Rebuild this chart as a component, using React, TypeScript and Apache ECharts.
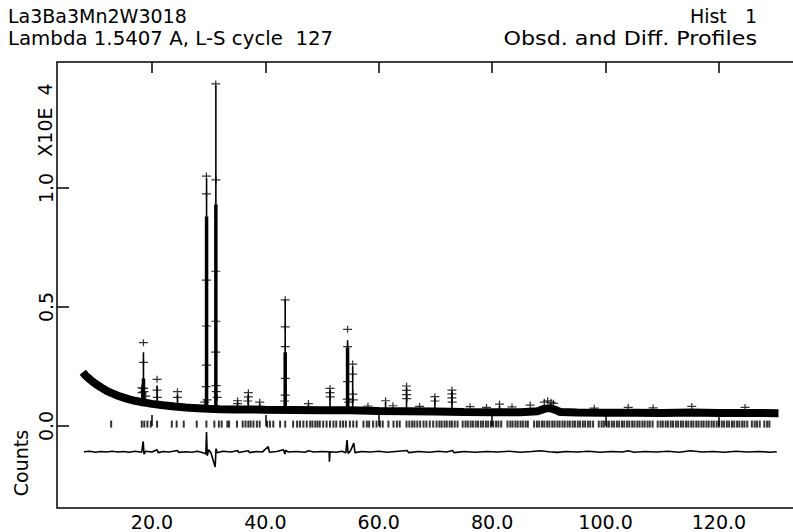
import React, { useEffect, useRef } from "react";
import * as echarts from "echarts";

const titleLines = ["La3Ba3Mn2W3018", "Lambda 1.5407 A, L-S cycle  127"];
const rightLines = ["Hist   1", "Obsd. and Diff. Profiles"];
const yUnit = "X10E  4";
const yName = "Counts";
const xTicks = [20, 40, 60, 80, 100, 120];
const yTicks = [0, 0.5, 1.0];

// band of observed points along the background (2theta, counts x1e4)
const background: number[][] = [
  [7.8, 0.226], [8.2, 0.214], [8.6, 0.205], [9.0, 0.197], [9.5, 0.187], [10, 0.178], [11, 0.162],
  [12, 0.148], [13, 0.137], [14, 0.127], [15, 0.119], [16, 0.112], [17, 0.106], [18, 0.101],
  [19, 0.097], [20, 0.093], [22, 0.087], [24, 0.082], [26, 0.078], [28, 0.075], [30, 0.072],
  [32, 0.07], [35, 0.069], [38, 0.069], [40, 0.068], [45, 0.067], [50, 0.066], [55, 0.066],
  [60, 0.063], [65, 0.062], [70, 0.061], [75, 0.059], [80, 0.058], [85, 0.058], [88, 0.062],
  [89.3, 0.073], [90.3, 0.075], [91.2, 0.067], [92, 0.059], [95, 0.057], [100, 0.056], [105, 0.056],
  [110, 0.055], [115, 0.057], [120, 0.055], [125, 0.055], [130.5, 0.054],
];

// calculated peaks: [2theta, base, top]
const peaks: number[][] = [
  [18.2, 0.1, 0.16], [18.5, 0.1, 0.31], [20.9, 0.095, 0.17], [24.5, 0.085, 0.13],
  [29.63, 0.075, 1.04], [31.27, 0.075, 1.43], [35.1, 0.07, 0.1], [37.0, 0.07, 0.13],
  [39.0, 0.07, 0.095], [43.5, 0.07, 0.53], [47.6, 0.068, 0.09], [51.4, 0.068, 0.15],
  [54.5, 0.068, 0.36], [55.4, 0.068, 0.25], [58.1, 0.065, 0.08], [61.2, 0.065, 0.1],
  [64.9, 0.063, 0.16], [69.9, 0.062, 0.115], [72.9, 0.06, 0.145], [81.3, 0.058, 0.085],
];
const peakCores: number[][] = [
  [18.5, 0.1, 0.2], [29.63, 0.075, 0.88], [31.27, 0.075, 0.93], [43.5, 0.07, 0.31], [54.5, 0.068, 0.33],
];

// observed points standing out from the band
const obsPoints: number[][] = [
  [18.2, 0.16], [18.25, 0.14], [18.5, 0.35], [18.5, 0.267], [18.55, 0.158], [18.6, 0.144], [18.9, 0.125],
  [20.9, 0.196], [20.9, 0.151], [20.95, 0.12],
  [24.5, 0.144], [24.5, 0.12],
  [29.6, 1.05], [29.62, 0.975], [29.6, 0.613], [29.62, 0.42], [29.6, 0.256], [29.55, 0.165], [29.7, 0.11], [29.3, 0.1],
  [31.25, 1.437], [31.28, 1.034], [31.25, 0.65], [31.28, 0.44], [31.25, 0.31], [31.3, 0.17], [31.35, 0.144], [31.5, 0.12],
  [35.1, 0.106], [35.1, 0.094],
  [37.0, 0.14], [37.0, 0.122], [36.9, 0.105],
  [39.0, 0.1],
  [43.5, 0.53], [43.5, 0.416], [43.5, 0.333], [43.52, 0.2], [43.5, 0.13], [43.4, 0.105],
  [47.6, 0.094],
  [51.4, 0.158], [51.4, 0.14], [51.45, 0.122],
  [54.5, 0.406], [54.5, 0.333], [54.5, 0.186], [54.45, 0.113], [54.7, 0.1],
  [55.4, 0.26], [55.4, 0.218], [55.45, 0.134], [55.5, 0.11],
  [58.1, 0.084], [61.2, 0.106], [62.5, 0.085],
  [64.9, 0.168], [64.9, 0.15], [64.9, 0.132], [64.95, 0.115], [67.2, 0.082],
  [69.9, 0.123], [69.9, 0.105],
  [72.9, 0.151], [72.9, 0.135], [72.9, 0.118], [72.95, 0.1],
  [76.1, 0.081], [79.0, 0.078], [81.3, 0.092], [83.5, 0.08], [86.7, 0.088],
  [89.2, 0.1], [89.8, 0.106], [90.4, 0.1], [90.8, 0.095], [98.0, 0.075],
  [104.0, 0.078], [108.4, 0.076], [115.2, 0.082], [124.6, 0.078],
];

// difference curve (offset)
const diff: number[][] = [
  [8.0, -0.108], [9, -0.106], [10, -0.11], [11, -0.107], [12, -0.109], [13, -0.106], [14, -0.109],
  [15, -0.107], [16, -0.11], [17, -0.106], [18.2, -0.11], [18.45, -0.065], [18.6, -0.118], [18.9, -0.106],
  [20, -0.109], [20.9, -0.1], [21.1, -0.112], [22, -0.107], [23, -0.109], [24.5, -0.103], [24.7, -0.111],
  [26, -0.108], [27, -0.11], [28, -0.106], [29, -0.112], [29.5, -0.118], [29.62, -0.025], [29.75, -0.125],
  [30, -0.1], [30.4, -0.112], [31.15, -0.172], [31.3, -0.095], [31.5, -0.112], [32.5, -0.106], [34, -0.109],
  [35.1, -0.103], [35.3, -0.111], [36, -0.108], [37, -0.104], [37.2, -0.112], [38.5, -0.107], [39.5, -0.109],
  [40.5, -0.086], [40.7, -0.11], [42, -0.107], [43.2, -0.1], [43.45, -0.118], [43.6, -0.102], [44, -0.109],
  [45.5, -0.107], [47, -0.11], [47.6, -0.104], [48.5, -0.109], [50, -0.107], [51.25, -0.108], [51.3, -0.15],
  [51.4, -0.108], [52.5, -0.11], [53.5, -0.106], [54.2, -0.112], [54.4, -0.059], [54.6, -0.115], [55.0, -0.105],
  [55.6, -0.072], [55.8, -0.112], [57, -0.107], [58.5, -0.109], [60, -0.106], [61.5, -0.11], [63, -0.107],
  [65, -0.103], [65.3, -0.112], [67, -0.107], [69, -0.11], [70.5, -0.106], [72, -0.109], [73, -0.103],
  [73.3, -0.112], [75, -0.107], [77, -0.11], [79, -0.107], [81, -0.109], [83, -0.106], [85, -0.11],
  [87, -0.107], [88.5, -0.104], [90, -0.108], [91.5, -0.111], [93, -0.107], [95, -0.109], [97, -0.106],
  [99, -0.11], [101, -0.107], [103, -0.109], [104, -0.104], [105, -0.11], [107, -0.107], [109, -0.109],
  [111, -0.106], [113, -0.11], [115, -0.104], [117, -0.109], [119, -0.107], [121, -0.11], [123, -0.106],
  [125, -0.109], [127, -0.107], [129, -0.11], [130.2, -0.108],
];

// reflection positions (2theta)
const reflections: number[] = [
  12.8, 18.2, 18.65, 19.2, 19.8, 20.9, 23.5, 24.35, 25.6, 27.9, 29.6, 31.0, 31.8, 32.3, 33.3, 33.6,
  35.0, 36.0, 36.5, 37.0, 37.4, 37.9, 38.5, 39.0, 40.3, 40.8, 41.4, 42.6, 43.5, 44.9, 45.6, 46.1,
  46.7, 47.3, 47.9, 48.3, 48.8, 49.2, 49.6, 50.2, 50.8, 51.4, 52.0, 52.5, 53.2, 53.7, 54.2, 54.9,
  55.5, 56.1, 57.3, 57.9, 58.3, 59.0, 59.6, 60.2, 60.7, 61.7, 62.6, 63.2, 63.7, 64.9, 65.4, 65.9,
  66.3, 66.8, 67.3, 67.9, 68.4, 69.0, 69.6, 70.2, 70.7, 71.1, 71.6, 72.0, 72.5, 72.9, 73.4, 73.9,
  74.8, 75.3, 75.7, 76.2, 76.6, 77.1, 77.5, 78.0, 78.4, 78.9, 79.3, 79.8, 80.2, 80.7, 81.1, 81.6,
  82.7, 83.2, 83.6, 84.1, 84.5, 85.0, 85.4, 85.9, 86.3, 87.4, 87.9, 88.3, 88.8, 89.2, 89.7, 90.1,
  90.6, 91.0, 91.5, 91.9, 92.4, 92.8, 93.3, 93.7, 94.2, 94.6, 95.1, 95.5, 96.0, 96.4, 96.9, 97.3,
  97.8, 98.8, 99.3, 99.7, 100.2, 100.6, 101.1, 101.5, 102.0, 102.4, 102.9, 103.3, 103.8, 104.2,
  104.7, 105.1, 105.6, 106.0, 106.5, 106.9, 107.4, 107.8, 108.3, 109.2, 109.7, 110.1, 110.6, 111.0,
  111.5, 111.9, 112.4, 112.8, 113.3, 113.7, 114.2, 114.6, 115.1, 115.5, 116.0, 116.4, 116.9, 117.3,
  117.8, 118.2, 118.7, 119.1, 119.6, 120.0, 120.5, 120.9, 121.4, 121.8, 122.3, 122.7, 123.2, 123.6,
  124.1, 124.5, 125.0, 125.8, 126.3, 126.7, 127.2, 128.0, 128.5, 128.9,
];

const FONT = "DejaVu Sans";
const FS = 19;
const CROSS = "path://M-5,-0.7H5V0.7H-5ZM-0.7,-4H0.7V4H-0.7Z";

export default function App() {
  const ref = useRef<HTMLDivElement>(null);
  useEffect(() => {
    if (!ref.current) return;
    const chart = echarts.init(ref.current, undefined, { renderer: "svg" });
    const segs = (list: number[][]) => {
      const out: any[] = [];
      list.forEach(([x, b, t]) => {
        out.push([x, b], [x, t], [x, "-"]);
      });
      return out;
    };
    const xMin = 3.25, xMax = 134.65;
    const txt = (text: string, x: number, y: number, align: string, extra: any = {}) => ({
      type: "text", x, y, ...extra,
      style: { text, fill: "#000", font: `${FS}px ${FONT}`, align, verticalAlign: "middle" },
    });
    chart.setOption({
      animation: false,
      backgroundColor: "#fff",
      grid: {
        left: 57, top: 62, width: 745, height: 446,
        show: true, borderColor: "#000", borderWidth: 1.5, backgroundColor: "transparent",
      },
      xAxis: [
        {
          type: "value", min: xMin, max: xMax, position: "bottom",
          axisLine: { show: false },
          splitLine: { show: false },
          axisTick: { show: true, inside: true, length: 11, customValues: xTicks, lineStyle: { color: "#000", width: 1.5 } },
          axisLabel: {
            show: true, customValues: xTicks, margin: 4, color: "#000",
            fontFamily: FONT, fontSize: FS, formatter: (v: number) => v.toFixed(1),
          },
        },
        {
          type: "value", min: xMin, max: xMax, position: "top",
          axisLine: { show: false },
          splitLine: { show: false },
          axisTick: { show: true, inside: true, length: 11, customValues: xTicks, lineStyle: { color: "#000", width: 1.5 } },
          axisLabel: { show: false },
        },
      ],
      yAxis: {
        type: "value", min: -0.3445, max: 1.529,
        axisLine: { show: false },
        splitLine: { show: false },
        axisTick: { show: true, inside: true, length: 12, customValues: yTicks, lineStyle: { color: "#000", width: 1.5 } },
        axisLabel: {
          show: true, customValues: yTicks, rotate: 90, margin: 2, color: "#000",
          fontFamily: FONT, fontSize: FS, formatter: (v: number) => v.toFixed(1),
        },
      },
      graphic: [
        txt(titleLines[0], 8, 16, "left"),
        txt(titleLines[1], 8, 39, "left", { scaleX: 1.04 }),
        txt(rightLines[0], 757, 16, "right"),
        txt(rightLines[1], 757, 39, "right", { scaleX: 1.17 }),
        txt(yUnit, 44.5, 120, "center", { rotation: Math.PI / 2 }),
        txt(yName, 21, 463, "center", { rotation: Math.PI / 2 }),
      ],
      series: [
        {
          name: "Obsd band", type: "line", data: background, symbol: "none", smooth: false,
          lineStyle: { color: "#000", width: 8 }, z: 2, silent: true,
        },
        {
          name: "Calc", type: "line", data: segs(peaks), symbol: "none", connectNulls: false,
          lineStyle: { color: "#000", width: 1.6 }, z: 3, silent: true,
        },
        {
          name: "Calc core", type: "line", data: segs(peakCores), symbol: "none", connectNulls: false,
          lineStyle: { color: "#000", width: 3.5 }, z: 3, silent: true,
        },
        {
          name: "Obsd", type: "scatter", data: obsPoints, symbol: CROSS, symbolSize: [9, 7],
          itemStyle: { color: "#000" }, z: 4, silent: true,
        },
        {
          name: "Reflections", type: "scatter", data: reflections.map((x) => [x, 0.008]),
          symbol: "rect", symbolSize: [2, 7], itemStyle: { color: "#000" }, z: 4, silent: true,
        },
        {
          name: "Diff", type: "line", data: diff, symbol: "none",
          lineStyle: { color: "#000", width: 1.6 }, z: 3, silent: true,
        },
      ],
    });
    return () => chart.dispose();
  }, []);
  return (
    <div style={{ position: "fixed", left: 0, top: 0, width: 793, height: 532, overflow: "hidden", background: "#fff" }}>
      <div ref={ref} style={{ width: 810, height: 532 }} />
    </div>
  );
}
